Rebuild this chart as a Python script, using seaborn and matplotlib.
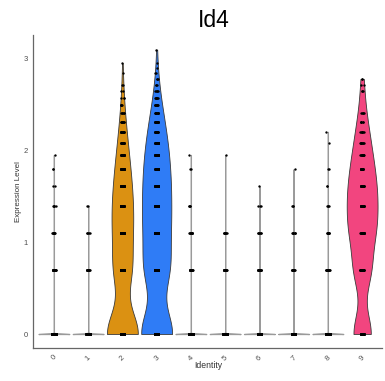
import numpy as np
import pandas as pd
import matplotlib
matplotlib.use("Agg")
import matplotlib.pyplot as plt
import seaborn as sns

# Expression levels (log-scale) at which cells sit
LEVELS = [0.000, 0.693, 1.099, 1.386, 1.609, 1.792, 1.946, 2.079, 2.197, 2.303, 2.398,
          2.485, 2.565, 2.639, 2.708, 2.773, 2.833, 2.890, 2.944, 2.996, 3.045, 3.091]

CLUSTERS = ["0", "1", "2", "3", "4", "5", "6", "7", "8", "9"]

# Number of cells per cluster at each expression level
COUNTS_0 = [900, 26, 11, 5, 2, 2, 1]
COUNTS_1 = [700, 15, 5, 2]
COUNTS_2 = [262, 134, 104, 81, 57, 40, 27, 20, 14, 9, 6, 5, 3, 2, 2, 0, 1, 0, 1]
COUNTS_3 = [244, 170, 125, 95, 77, 60, 48, 38, 29, 22, 16, 11, 8, 5, 3, 3, 2, 1, 1, 0, 0, 1]
COUNTS_4 = [880, 24, 10, 4, 0, 2, 1]
COUNTS_5 = [850, 20, 8, 0, 0, 0, 1]
COUNTS_6 = [800, 18, 7, 3, 1]
COUNTS_7 = [820, 20, 8, 3, 0, 1]
COUNTS_8 = [600, 20, 9, 4, 2, 2, 0, 1, 1]
COUNTS_9 = [43, 38, 44, 37, 28, 20, 14, 10, 7, 6, 5, 0, 0, 3, 2, 2]

COUNTS = [COUNTS_0, COUNTS_1, COUNTS_2, COUNTS_3, COUNTS_4,
          COUNTS_5, COUNTS_6, COUNTS_7, COUNTS_8, COUNTS_9]

FILLS = ["#bdbdbd", "#bdbdbd", "#db9112", "#2f7cf6", "#bdbdbd",
         "#bdbdbd", "#bdbdbd", "#bdbdbd", "#bdbdbd", "#f2457f"]
# kernel bandwidth per cluster (in expression units)
BANDWIDTH = [0.004, 0.004, 0.24, 0.25, 0.004, 0.004, 0.004, 0.004, 0.004, 0.22]

frames = []
for cl, cnt in zip(CLUSTERS, COUNTS):
    vals = np.repeat(LEVELS[:len(cnt)], cnt)
    frames.append(pd.DataFrame({"Identity": cl, "Expression Level": vals}))
df = pd.concat(frames, ignore_index=True)

sns.set_style("white")
plt.rcParams["font.family"] = ["Liberation Sans", "DejaVu Sans"]

fig = plt.figure(figsize=(3.85, 3.81), dpi=100)
ax = fig.add_axes([33 / 385, 33 / 381, 349 / 385, 313 / 381])

np.random.seed(3)
for i, cl in enumerate(CLUSTERS):
    sub = df[df["Identity"] == cl]
    vals = sub["Expression Level"].to_numpy()
    factor = BANDWIDTH[i] / vals.std(ddof=1)
    colored = BANDWIDTH[i] > 0.05
    sns.violinplot(data=sub, x="Identity", y="Expression Level", order=CLUSTERS,
                   color=FILLS[i], saturation=1, inner=None, cut=0,
                   density_norm="width", width=0.9, bw_method=factor,
                   linewidth=0.6 if colored else 0.9,
                   linecolor="#3a3a3a" if colored else "#9a9a9a",
                   gridsize=200, ax=ax)
    sns.stripplot(data=sub, x="Identity", y="Expression Level", order=CLUSTERS,
                  color="black", size=1.7, jitter=0.05, linewidth=0, ax=ax, zorder=3)

ax.set_xlim(-0.61, 9.58)
ax.set_ylim(-0.152, 3.25)
ax.set_yticks([0, 1, 2, 3])
ax.set_yticklabels(["0", "1", "2", "3"])
ax.set_xticks(range(len(CLUSTERS)))
ax.set_xticklabels(CLUSTERS, rotation=45, ha="center", va="top")

for side in ["top", "right"]:
    ax.spines[side].set_visible(False)
for side in ["left", "bottom"]:
    ax.spines[side].set_color("#666666")
    ax.spines[side].set_linewidth(0.9)

ax.tick_params(axis="both", colors="#777777", labelcolor="#4d4d4d", length=2.5,
               width=0.7, labelsize=5.5, pad=1.2)
ax.tick_params(axis="x", pad=1.8)
ax.set_xlabel("")
ax.set_ylabel("")

fig.text(18 / 385, 1 - 192 / 381, "Expression Level", rotation=90, ha="center",
         va="center", fontsize=5.8, color="#333333")
fig.text(208 / 385, 1 - 366 / 381, "Identity", ha="center", va="center",
         fontsize=6.2, color="#333333")
fig.text(214 / 385, 1 - 27 / 381, "Id4", ha="center", va="baseline",
         fontsize=16.5, color="black")

fig.savefig("out.png", dpi=100)
